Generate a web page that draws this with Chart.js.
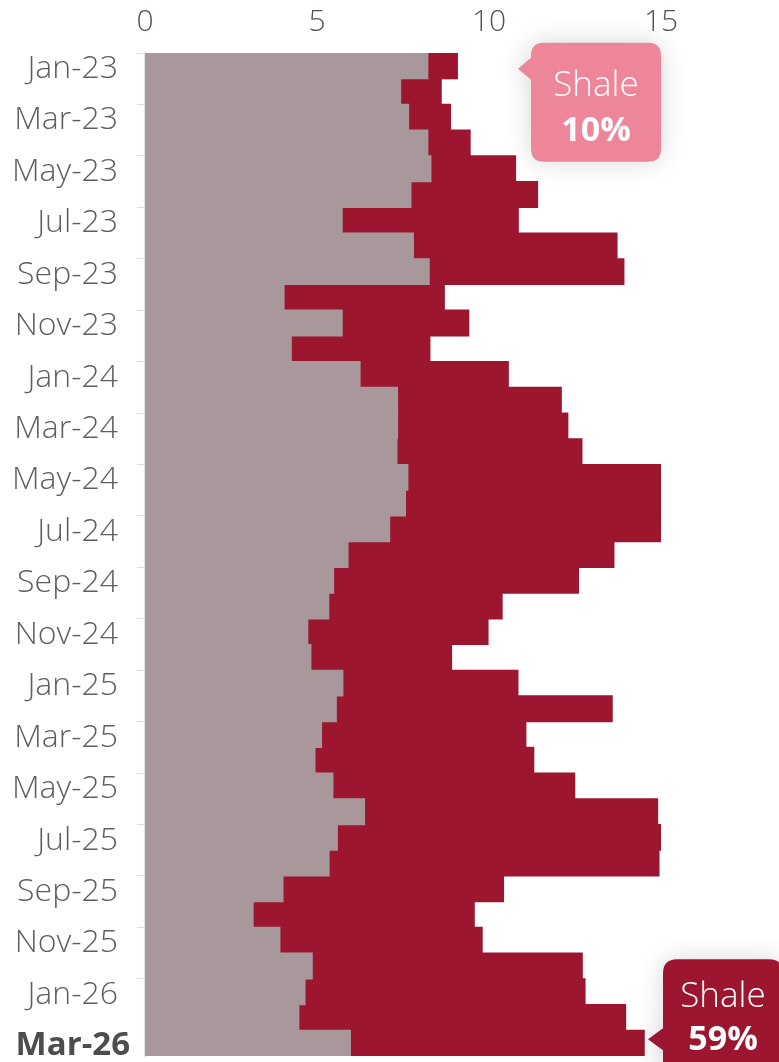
<!DOCTYPE html>
<html>
<head>
<meta charset="utf-8">
<script src="https://cdn.jsdelivr.net/npm/chart.js@4/dist/chart.umd.min.js"></script>
<style>
  html, body { margin: 0; padding: 0; background: #ffffff; }
  #wrap { position: relative; width: 779px; height: 1062px; }
</style>
</head>
<body>
<div id="wrap"><canvas id="c"></canvas></div>
<script>
const months = ["Jan-23","Feb-23","Mar-23","Apr-23","May-23","Jun-23","Jul-23","Aug-23","Sep-23","Oct-23","Nov-23","Dec-23",
  "Jan-24","Feb-24","Mar-24","Apr-24","May-24","Jun-24","Jul-24","Aug-24","Sep-24","Oct-24","Nov-24","Dec-24",
  "Jan-25","Feb-25","Mar-25","Apr-25","May-25","Jun-25","Jul-25","Aug-25","Sep-25","Oct-25","Nov-25","Dec-25",
  "Jan-26","Feb-26","Mar-26"];
const otherValues = [8.22,7.43,7.66,8.22,8.31,7.73,5.73,7.80,8.26,4.04,5.73,4.25,
  6.25,7.34,7.34,7.32,7.64,7.57,7.11,5.90,5.48,5.34,4.73,4.82,
  5.75,5.56,5.13,4.94,5.46,6.38,5.59,5.35,4.01,3.14,3.92,4.86,
  4.65,4.47,5.97];
const shaleValues = [0.86,1.18,1.22,1.23,2.46,3.68,5.12,5.92,5.66,4.66,3.68,4.03,
  4.31,4.76,4.95,5.38,7.36,7.43,7.89,7.73,7.12,5.04,5.24,4.09,
  5.09,8.02,5.94,6.36,7.03,8.52,9.41,9.59,6.41,6.43,5.88,7.85,
  8.14,9.50,8.54];
const xTicks = [0, 5, 10, 15];
const calloutTitle = "Shale";
const calloutFirst = "10%";
const calloutLast = "59%";

const FONT = "'Open Sans', 'DejaVu Sans', sans-serif";
const GRAY = "#a8989b";
const RED = "#9d1630";
const PINK = "#ec8698";

function roundRectPointer(ctx, x, y, w, h, r, tipX, tipY, baseTop, baseBot) {
  ctx.beginPath();
  ctx.moveTo(x + r, y);
  ctx.lineTo(x + w - r, y);
  ctx.quadraticCurveTo(x + w, y, x + w, y + r);
  ctx.lineTo(x + w, y + h - r);
  ctx.quadraticCurveTo(x + w, y + h, x + w - r, y + h);
  ctx.lineTo(x + r, y + h);
  ctx.quadraticCurveTo(x, y + h, x, y + h - r);
  ctx.lineTo(x, baseBot);
  ctx.lineTo(tipX, tipY);
  ctx.lineTo(x, baseTop);
  ctx.lineTo(x, y + r);
  ctx.quadraticCurveTo(x, y, x + r, y);
  ctx.closePath();
}

const calloutPlugin = {
  id: 'callouts',
  afterDraw(chart) {
    const ctx = chart.ctx;
    const ca = chart.chartArea;
    const ys = chart.scales.y;
    const first = ys.getPixelForValue(0);
    const lastIdx = months.length - 1;
    const last = ys.getPixelForValue(lastIdx);

    // bold label of the latest month
    ctx.save();
    ctx.fillStyle = '#4d4d4d';
    ctx.textAlign = 'right';
    ctx.textBaseline = 'middle';
    ctx.font = "700 33px " + FONT;
    ctx.fillText(months[lastIdx], ca.left - 15, last + 2);
    ctx.restore();

    // top callout (first month)
    ctx.save();
    ctx.shadowColor = 'rgba(0,0,0,0.16)';
    ctx.shadowBlur = 26;
    ctx.fillStyle = PINK;
    const bx = ca.right - 130, bw = 130, by = first - 23, bh = 119;
    roundRectPointer(ctx, bx, by, bw, bh, 13, bx - 13, first + 3, first - 8, first + 14);
    ctx.fill();
    ctx.restore();
    ctx.save();
    ctx.fillStyle = '#ffffff';
    ctx.textAlign = 'center';
    ctx.textBaseline = 'alphabetic';
    ctx.font = "300 35px " + FONT;
    ctx.fillText(calloutTitle, bx + bw / 2, by + 53);
    ctx.font = "700 34px " + FONT;
    ctx.fillText(calloutFirst, bx + bw / 2, by + 98);
    ctx.restore();

    // bottom callout (last month)
    ctx.save();
    ctx.shadowColor = 'rgba(0,0,0,0.16)';
    ctx.shadowBlur = 26;
    ctx.fillStyle = RED;
    const cx = ca.right + 2, cw = 120, cy = last - 84, ch = 140;
    roundRectPointer(ctx, cx, cy, cw, ch, 14, cx - 15, last - 4, last - 15, last + 7);
    ctx.fill();
    ctx.restore();
    ctx.save();
    ctx.fillStyle = '#ffffff';
    ctx.textAlign = 'center';
    ctx.textBaseline = 'alphabetic';
    ctx.font = "300 35px " + FONT;
    ctx.fillText(calloutTitle, cx + 60, cy + 48);
    ctx.font = "700 34px " + FONT;
    ctx.fillText(calloutLast, cx + 60, cy + 91);
    ctx.restore();
  }
};

new Chart(document.getElementById('c'), {
  type: 'bar',
  data: {
    labels: months,
    datasets: [
      { label: 'Other', data: otherValues, backgroundColor: GRAY, borderWidth: 0, inflateAmount: 0.6, barPercentage: 1, categoryPercentage: 1 },
      { label: 'Shale', data: shaleValues, backgroundColor: RED, borderWidth: 0, inflateAmount: 0.6, barPercentage: 1, categoryPercentage: 1 }
    ]
  },
  options: {
    indexAxis: 'y',
    responsive: true,
    maintainAspectRatio: false,
    animation: false,
    layout: { padding: { top: 0, right: 118, bottom: 6, left: 0 } },
    plugins: { legend: { display: false }, tooltip: { enabled: false } },
    scales: {
      x: {
        position: 'top',
        stacked: true,
        min: 0,
        max: 15,
        afterBuildTicks: (s) => { s.ticks = xTicks.map(v => ({ value: v })); },
        grid: { display: false },
        border: { display: false },
        ticks: {
          color: '#5b4f50',
          font: { family: FONT, size: 30, weight: 300 },
          padding: 5,
          maxRotation: 0
        },
        afterFit: (s) => { s.height = 53; }
      },
      y: {
        stacked: true,
        grid: {
          display: true,
          drawOnChartArea: false,
          drawTicks: true,
          tickLength: 8,
          offset: true,
          color: (c) => (c.index !== undefined && c.index % 2 === 0 && c.index < months.length - 1) ? '#dddddd' : 'rgba(0,0,0,0)'
        },
        border: { display: true, color: '#e4e4e4', width: 2 },
        ticks: {
          autoSkip: false,
          padding: 19,
          labelOffset: 3,
          callback: function(v, i) { return (i % 2 === 0 && i < months.length - 1) ? months[i] : ''; },
          color: '#5f5f5f',
          font: { family: FONT, size: 32, weight: 300 }
        },
        afterFit: (s) => { s.width = 145; s.paddingTop = 0; s.paddingBottom = 0; }
      }
    }
  },
  plugins: [calloutPlugin]
});
</script>
</body>
</html>
